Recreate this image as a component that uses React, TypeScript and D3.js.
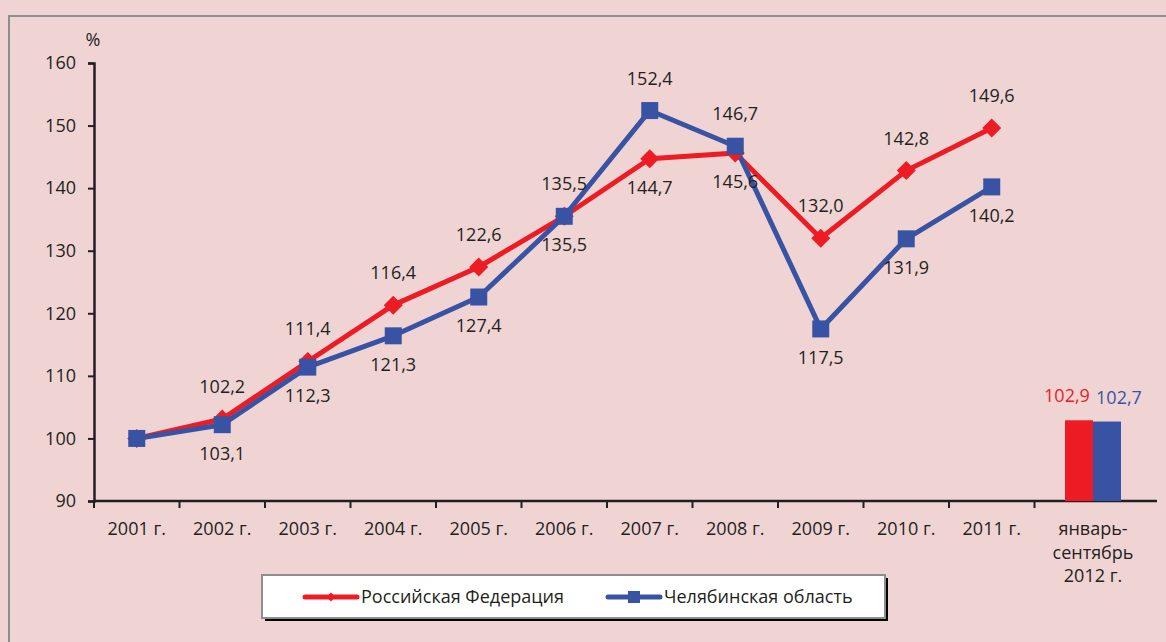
import React, { useEffect, useRef } from "react";
import * as d3 from "d3";

// years on the line chart
const years = ["2001 г.", "2002 г.", "2003 г.", "2004 г.", "2005 г.", "2006 г.", "2007 г.", "2008 г.", "2009 г.", "2010 г.", "2011 г."];
const russia = [100, 103.1, 112.3, 121.3, 127.4, 135.5, 144.7, 145.6, 132.0, 142.8, 149.6];
const chelyabinsk = [100, 102.2, 111.4, 116.4, 122.6, 135.5, 152.4, 146.7, 117.5, 131.9, 140.2];

// last category shown as bars
const lastCategory = ["январь-", "сентябрь", "2012 г."];
const lastValues = [102.9, 102.7];

const yTicks = [90, 100, 110, 120, 130, 140, 150, 160];
const seriesNames = ["Российская Федерация", "Челябинская область"];

const RED = "#ed1c24";
const BLUE = "#3953a4";
const TEXT = "#231f20";

const fmt = (v: number) => v.toFixed(1).replace(".", ",");

const App = () => {
  const ref = useRef<SVGSVGElement | null>(null);

  useEffect(() => {
    const svg = d3.select(ref.current);
    svg.selectAll("*").remove();

    const W = 1166;
    const H = 642;
    const left = 94;
    const yearsRight = 1034.5;
    const axisRight = 1157;
    const top = 63;
    const bottom = 501;

    svg.append("rect").attr("width", W).attr("height", H).attr("fill", "#f0d4d4");
    svg.append("rect")
      .attr("x", 9).attr("y", 16).attr("width", W).attr("height", H)
      .attr("fill", "none").attr("stroke", "#8e8e8e").attr("stroke-width", 2);

    const font = "'Open Sans', 'Noto Sans', sans-serif";
    const fs = "18px";

    const x = d3.scaleBand<string>().domain(years).range([left, yearsRight]);
    const cx = (i: number) => (x(years[i]) as number) + x.bandwidth() / 2;
    const y = d3.scaleLinear().domain([90, 160]).range([bottom, top]);

    // y axis
    const yAxis = svg.append("g").attr("transform", `translate(${left},0)`)
      .call(d3.axisLeft(y).tickValues(yTicks).tickSize(6).tickPadding(12));
    yAxis.select(".domain").attr("stroke", TEXT).attr("stroke-width", 2.5);
    yAxis.selectAll(".tick line").attr("stroke", TEXT).attr("stroke-width", 2);
    yAxis.selectAll(".tick text").attr("fill", TEXT).style("font", `${fs} ${font}`);

    svg.append("text").attr("x", 93).attr("y", 46).attr("text-anchor", "middle")
      .attr("fill", TEXT).style("font", `${fs} ${font}`).text("%");

    // x axis
    svg.append("line").attr("x1", left).attr("x2", axisRight).attr("y1", bottom).attr("y2", bottom)
      .attr("stroke", TEXT).attr("stroke-width", 2.5);
    const boundaries = years.map((d) => x(d) as number).concat([yearsRight]);
    svg.append("g").selectAll("line").data(boundaries).join("line")
      .attr("x1", (d) => d).attr("x2", (d) => d).attr("y1", bottom).attr("y2", bottom + 7)
      .attr("stroke", TEXT).attr("stroke-width", 2);
    svg.append("g").selectAll("text").data(years).join("text")
      .attr("x", (_d, i) => cx(i)).attr("y", bottom + 34).attr("text-anchor", "middle")
      .attr("fill", TEXT).style("font", `${fs} ${font}`).text((d) => d);

    const lastCx = 1093;
    svg.append("g").selectAll("text").data(lastCategory).join("text")
      .attr("x", lastCx).attr("y", (_d, i) => bottom + 34 + i * 23.5).attr("text-anchor", "middle")
      .attr("fill", TEXT).style("font", `${fs} ${font}`).text((d) => d);

    // bars
    const xb = d3.scaleBand<number>().domain([0, 1]).range([lastCx - 28, lastCx + 28]);
    const barColors = [RED, BLUE];
    svg.append("g").selectAll("rect").data(lastValues).join("rect")
      .attr("x", (_d, i) => xb(i) as number).attr("width", xb.bandwidth())
      .attr("y", (d) => y(d)).attr("height", (d) => bottom - y(d))
      .attr("fill", (_d, i) => barColors[i]);
    svg.append("g").selectAll("text").data(lastValues).join("text")
      .attr("x", (_d, i) => (xb(i) as number) + xb.bandwidth() / 2 + (i === 0 ? -12 : 12))
      .attr("y", (d) => y(d) - 18).attr("text-anchor", "middle")
      .attr("fill", (_d, i) => barColors[i]).style("font", `${fs} ${font}`).text((d) => fmt(d));

    // lines
    const line = d3.line<number>().x((_d, i) => cx(i)).y((d) => y(d));
    svg.append("path").datum(russia).attr("d", line).attr("fill", "none")
      .attr("stroke", RED).attr("stroke-width", 5).attr("stroke-linejoin", "round");
    svg.append("path").datum(chelyabinsk).attr("d", line).attr("fill", "none")
      .attr("stroke", BLUE).attr("stroke-width", 5).attr("stroke-linejoin", "round");

    const diamond = d3.symbol().type(d3.symbolDiamond2).size(230);
    svg.append("g").selectAll("path").data(russia).join("path")
      .attr("d", diamond as any).attr("transform", (d, i) => `translate(${cx(i)},${y(d)})`)
      .attr("fill", RED);
    svg.append("g").selectAll("rect").data(chelyabinsk).join("rect")
      .attr("x", (_d, i) => cx(i) - 8.5).attr("y", (d) => y(d) - 8.5)
      .attr("width", 17).attr("height", 17).attr("fill", BLUE);

    // value labels: one above the higher point, one below the lower point
    const labels = svg.append("g").attr("fill", TEXT).style("font", `${fs} ${font}`).attr("text-anchor", "middle");
    years.forEach((_d, i) => {
      if (i === 0) return;
      const r = russia[i];
      const c = chelyabinsk[i];
      const topY = Math.min(y(r), y(c));
      const botY = Math.max(y(r), y(c));
      const blueOnTop = i < 8;
      const above = blueOnTop ? c : r;
      const below = blueOnTop ? r : c;
      labels.append("text").attr("x", cx(i)).attr("y", topY - 26).text(fmt(above));
      labels.append("text").attr("x", cx(i)).attr("y", botY + 35).text(fmt(below));
    });

    // legend
    const lg = svg.append("g");
    lg.append("rect").attr("x", 265).attr("y", 578).attr("width", 623).attr("height", 43).attr("fill", "#000");
    lg.append("rect").attr("x", 262).attr("y", 575).attr("width", 623).attr("height", 43)
      .attr("fill", "#fff").attr("stroke", "#8e8e8e").attr("stroke-width", 2);
    const items = [
      { name: seriesNames[0], color: RED, x0: 305, marker: "diamond" },
      { name: seriesNames[1], color: BLUE, x0: 608, marker: "square" },
    ];
    items.forEach((it) => {
      const ly = 597;
      lg.append("line").attr("x1", it.x0).attr("x2", it.x0 + 52).attr("y1", ly).attr("y2", ly)
        .attr("stroke", it.color).attr("stroke-width", 5).attr("stroke-linecap", "round");
      if (it.marker === "diamond") {
        lg.append("path").attr("d", d3.symbol().type(d3.symbolDiamond2).size(50)() as string)
          .attr("transform", `translate(${it.x0 + 26},${ly})`).attr("fill", it.color);
      } else {
        lg.append("rect").attr("x", it.x0 + 20).attr("y", ly - 6).attr("width", 12).attr("height", 12).attr("fill", it.color);
      }
      lg.append("text").attr("x", it.x0 + 56).attr("y", ly + 6).attr("fill", TEXT)
        .style("font", `18px ${font}`).text(it.name);
    });
  }, []);

  return (
    <div style={{ position: "absolute", left: 0, top: 0 }}>
      <svg ref={ref} width={1166} height={642} style={{ display: "block" }} />
    </div>
  );
};

export default App;
